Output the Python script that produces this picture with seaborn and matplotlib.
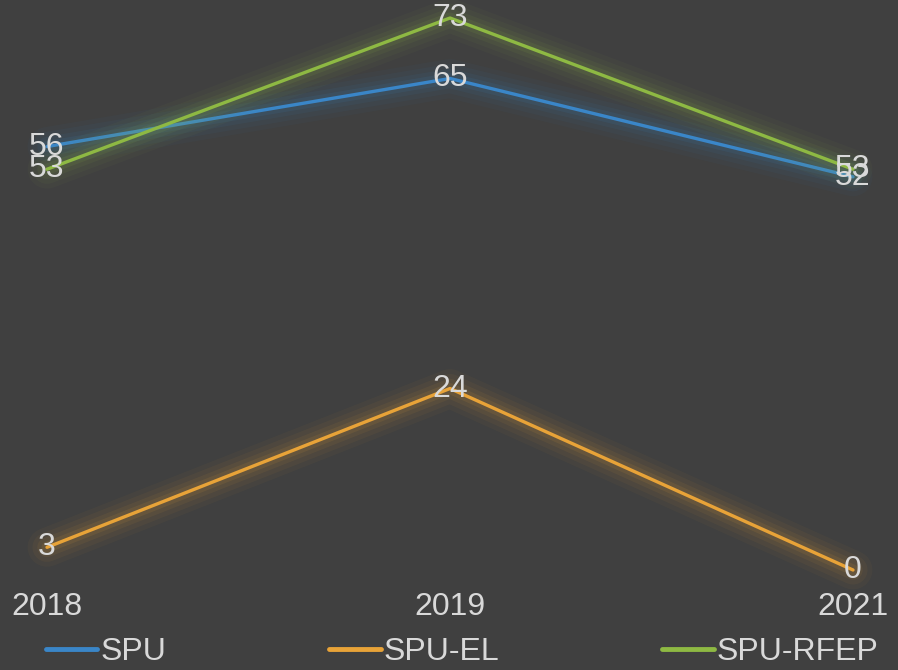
import pandas as pd
import seaborn as sns
import matplotlib.pyplot as plt
import matplotlib.patheffects as pe

# data
years = ['2018', '2019', '2021']
spu = [56, 65, 52]
spu_el = [3, 24, 0]
spu_rfep = [53, 73, 53]
series = ['SPU', 'SPU-EL', 'SPU-RFEP']
colors = ['#3A86C8', '#E8A338', '#8EB943']

df = pd.DataFrame({
    'pos': list(range(len(years))) * 3,
    'value': spu + spu_el + spu_rfep,
    'series': [s for s in series for _ in years],
})

bg = '#404040'
txt = '#D9D9D9'
fs = 23

sns.set_style('dark')
plt.rcParams['font.family'] = ['Liberation Sans', 'DejaVu Sans']

fig = plt.figure(figsize=(8.98, 6.70), dpi=100, facecolor=bg)
ax = fig.add_axes([47 / 898, 100 / 670, 806 / 898, 552 / 670])
ax.set_facecolor(bg)

sns.lineplot(data=df, x='pos', y='value', hue='series', hue_order=series,
             palette=colors, linewidth=2.4, ax=ax, legend=False)

# glow
for line, c in zip(ax.get_lines(), colors):
    line.set_clip_on(False)
    line.set_path_effects([
        pe.Stroke(linewidth=28, foreground=c, alpha=0.04),
        pe.Stroke(linewidth=21, foreground=c, alpha=0.05),
        pe.Stroke(linewidth=14, foreground=c, alpha=0.07),
        pe.Stroke(linewidth=8, foreground=c, alpha=0.10),
        pe.Normal(),
    ])

# data labels
for s in series:
    sub = df[df['series'] == s]
    for x, y in zip(sub['pos'], sub['value']):
        ax.text(x, y, str(y), ha='center', va='center', fontsize=fs,
                color=txt, zorder=5, clip_on=False)

ax.set_xlim(0, 2)
ax.set_ylim(0, 73)
ax.set_xticks(range(len(years)))
ax.set_xticklabels(years)
ax.set_yticks([])
ax.tick_params(axis='x', length=0, pad=16, labelsize=fs, labelcolor=txt)
ax.set_xlabel('')
ax.set_ylabel('')
ax.grid(False)
for sp in ax.spines.values():
    sp.set_visible(False)

handles = [plt.Line2D([], [], color=c, linewidth=3.5) for c in colors]
leg = fig.legend(handles, series, loc='center', bbox_to_anchor=(0.515, 0.027),
                 ncol=3, frameon=False, fontsize=fs, handlelength=1.6,
                 handletextpad=0.1, columnspacing=5.1, labelcolor=txt)

fig.savefig('out.png', dpi=100, facecolor=bg)
